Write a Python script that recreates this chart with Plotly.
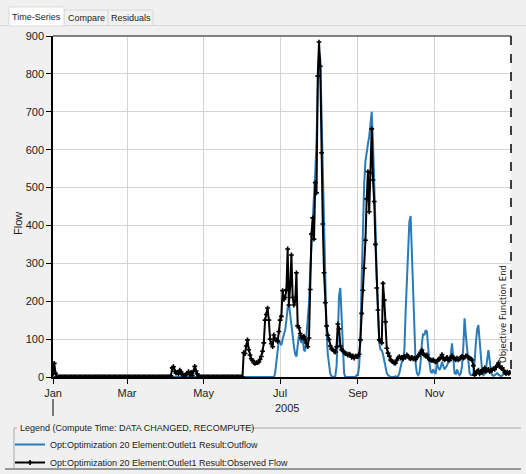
import pandas as pd
import plotly.graph_objects as go

# daily values for 2005, one list per month
obs_jan = [8, 36, 10, 0, 0, 0, 0, 0, 0, 0, 0, 0, 0, 0, 0, 0, 0, 0, 0, 0, 0, 0, 0, 0, 0, 0, 0, 0, 0, 0, 0]
obs_feb = [0, 0, 0, 0, 0, 0, 0, 0, 0, 0, 0, 0, 0, 0, 0, 0, 0, 0, 0, 0, 0, 0, 0, 0, 0, 0, 0, 0]
obs_mar = [0, 0, 0, 0, 0, 0, 0, 0, 0, 0, 0, 0, 0, 0, 0, 0, 0, 0, 0, 0, 0, 0, 0, 0, 0, 0, 0, 0, 0, 0, 0]
obs_apr = [0, 0, 0, 0, 3, 24, 27, 15, 10, 12, 8, 18, 14, 6, 5, 4, 6, 10, 14, 6, 12, 4, 15, 28, 16, 8, 3, 0, 0, 0]
obs_may = [0, 0, 0, 0, 0, 0, 0, 0, 0, 0, 0, 0, 0, 0, 0, 0, 0, 0, 0, 0, 0, 0, 0, 0, 0, 0, 0, 0, 0, 0, 0]
obs_jun = [0, 64, 62, 82, 98, 72, 58, 48, 44, 38, 36, 38, 38, 40, 46, 54, 68, 90, 150, 165,
           182, 150, 100, 88, 80, 111, 100, 98, 94, 120]
obs_jul = [150, 160, 228, 205, 210, 230, 338, 190, 240, 322, 210, 190, 200, 275, 135, 130, 115, 103, 105, 107,
           98, 90, 80, 103, 231, 377, 420, 364, 513, 486, 794]
obs_aug = [884, 820, 592, 404, 275, 196, 135, 110, 99, 82, 74, 72, 68, 66, 80, 140, 127, 82, 72, 70,
           65, 62, 61, 58, 60, 58, 52, 56, 50, 55, 54]
obs_sep = [54, 60, 98, 168, 229, 287, 361, 470, 542, 436, 539, 655, 520, 463, 350, 235, 177, 98, 96, 90,
           247, 203, 146, 76, 63, 55, 45, 42, 40, 37]
obs_oct = [37, 45, 50, 54, 50, 52, 48, 55, 52, 58, 55, 50, 48, 52, 48, 50, 46, 52, 55, 60,
           65, 71, 62, 58, 55, 58, 50, 46, 45, 43, 45]
obs_nov = [42, 40, 42, 45, 48, 52, 59, 50, 45, 48, 52, 46, 44, 50, 56, 52, 48, 45, 50, 45,
           48, 52, 55, 50, 52, 56, 55, 52, 50, 48]
obs_dec = [45, 30, 5, 10, 15, 18, 8, 15, 12, 20, 24, 15, 18, 20, 14, 18, 18, 22, 20, 26,
           30, 37, 28, 24, 24, 18, 12, 9, 13, 10, 12]

out_jan = [0, 0, 0, 0, 0, 0, 0, 0, 0, 0, 0, 0, 0, 0, 0, 0, 0, 0, 0, 0, 0, 0, 0, 0, 0, 0, 0, 0, 0, 0, 0]
out_feb = [0, 0, 0, 0, 0, 0, 0, 0, 0, 0, 0, 0, 0, 0, 0, 0, 0, 0, 0, 0, 0, 0, 0, 0, 0, 0, 0, 0]
out_mar = [0, 0, 0, 0, 0, 0, 0, 0, 0, 0, 0, 0, 0, 0, 0, 0, 0, 0, 0, 0, 0, 0, 0, 0, 0, 0, 0, 0, 0, 0, 0]
out_apr = [0, 0, 0, 0, 0, 0, 0, 0, 0, 0, 0, 0, 0, 0, 0, 0, 0, 0, 0, 0, 0, 0, 0, 0, 0, 0, 0, 0, 0, 0]
out_may = [0, 0, 0, 0, 0, 0, 0, 0, 0, 0, 0, 0, 0, 0, 0, 0, 0, 0, 0, 0, 0, 0, 0, 0, 0, 0, 0, 0, 0, 0, 0]
out_jun = [0, 0, 0, 0, 0, 0, 0, 0, 0, 0, 0, 0, 0, 0, 0, 0, 0, 0, 0, 0,
           0, 0, 0, 0, 0, 0, 10, 40, 70, 98]
out_jul = [90, 84, 100, 110, 124, 150, 182, 194, 160, 142, 110, 80, 60, 54, 80, 111, 100, 90, 100, 71,
           68, 106, 150, 194, 280, 360, 430, 480, 540, 620, 760]
out_aug = [856, 840, 700, 520, 360, 220, 120, 60, 25, 8, 2, 0, 0, 2, 30, 110, 215, 235, 150, 60,
           10, 0, 0, 0, 0, 0, 0, 0, 0, 0, 5]
out_sep = [5, 30, 100, 260, 420, 510, 570, 600, 615, 635, 670, 700, 620, 520, 400, 260, 150, 90, 72, 70,
           60, 40, 20, 10, 5, 2, 0, 0, 0, 0]
out_oct = [2, 0, 2, 10, 25, 40, 45, 70, 170, 260, 350, 410, 425, 330, 200, 100, 35, 10, 5, 10,
           40, 90, 115, 110, 124, 120, 70, 37, 15, 10, 20]
out_nov = [12, 10, 37, 25, 18, 25, 40, 30, 20, 25, 30, 40, 50, 60, 89, 50, 10, 8, 20, 10,
           5, 10, 30, 80, 155, 110, 71, 30, 10, 5]
out_dec = [5, 10, 40, 90, 125, 137, 90, 40, 15, 5, 8, 20, 45, 71, 45, 15, 5, 3, 5, 8,
           10, 6, 3, 2, 4, 8, 12, 15, 10, 6, 4]

tick_dates = ["2005-01-01", "2005-03-01", "2005-05-01", "2005-07-01", "2005-09-01", "2005-11-01"]
tick_labels = ["Jan", "Mar", "May", "Jul", "Sep", "Nov"]

observed = (obs_jan + obs_feb + obs_mar + obs_apr + obs_may + obs_jun
            + obs_jul + obs_aug + obs_sep + obs_oct + obs_nov + obs_dec)
outflow = (out_jan + out_feb + out_mar + out_apr + out_may + out_jun
           + out_jul + out_aug + out_sep + out_oct + out_nov + out_dec)
dates = pd.date_range("2005-01-01", periods=len(observed), freq="D")

FONT = "Liberation Sans"
GRID = "#d4d4d4"

# plot area in window pixels
L, R, T, B = 53, 511, 36, 377


def px(x):
    return (x - L) / (R - L)


def py(y):
    return (B - y) / (B - T)


fig = go.Figure()

fig.add_trace(
    go.Scatter(
        x=dates, y=outflow, mode="lines",
        name="Opt:Optimization 20 Element:Outlet1 Result:Outflow",
        line=dict(color="#2b7bb9", width=2),
        legend="legend",
    )
)
fig.add_trace(
    go.Scatter(
        x=dates, y=observed, mode="lines+markers",
        name="Opt:Optimization 20 Element:Outlet1 Result:Observed Flow",
        line=dict(color="black", width=2),
        marker=dict(symbol="cross", size=4, color="black"),
        legend="legend2",
    )
)

shapes = []
line_shape = lambda x0, y0, x1, y1, color, width=1, dash="solid": dict(
    type="line", xref="paper", yref="paper", x0=px(x0), y0=py(y0), x1=px(x1), y1=py(y1),
    line=dict(color=color, width=width, dash=dash), layer="above",
)

# tab strip
shapes.append(line_shape(0, 25.5, 526, 25.5, "#d9d9d9"))
shapes.append(dict(type="rect", xref="paper", yref="paper", x0=px(64), x1=px(108), y0=py(10), y1=py(25.5),
                   fillcolor="#f2f2f2", line=dict(color="#d9d9d9", width=1)))
shapes.append(dict(type="rect", xref="paper", yref="paper", x0=px(108), x1=px(153), y0=py(10), y1=py(25.5),
                   fillcolor="#f2f2f2", line=dict(color="#d9d9d9", width=1)))
shapes.append(dict(type="rect", xref="paper", yref="paper", x0=px(9), x1=px(64), y0=py(7), y1=py(26),
                   fillcolor="white", line=dict(color="#d9d9d9", width=1)))

# frame top and objective function end marker
shapes.append(line_shape(L, T, R, T, "#5a5a5a", 1.5))
shapes.append(line_shape(R, T, R, B, "black", 1.5, "dash"))
# year separator tick under Jan
shapes.append(line_shape(L, 399, L, 416, "black", 1))

# legend group box
shapes.append(line_shape(14, 428, 17, 428, "#a8a8a8"))
shapes.append(line_shape(240, 428, 521, 428, "#a8a8a8"))
shapes.append(line_shape(14, 428, 14, 468, "#a8a8a8"))
shapes.append(line_shape(5, 469, 521, 469, "#7a7a7a", 1.5))


def label(text, x, y, size=11, family=FONT, angle=0, xanchor="center"):
    return dict(text=text, x=px(x), y=py(y), xref="paper", yref="paper", showarrow=False,
                xanchor=xanchor, yanchor="middle", textangle=angle,
                font=dict(size=size, family=family, color="#222"))


annotations = [
    label("Time-Series", 36.5, 16.5, size=9),
    label("Compare", 86, 17.5, size=9),
    label("Residuals", 130.5, 17.5, size=9),
    label("Flow", 18, 224, angle=-90),
    label("2005", 287, 408),
    label("Objective Function End", 503, 314, size=8.5, family="DejaVu Sans", angle=-90),
    label("Legend (Compute Time: DATA CHANGED, RECOMPUTE)", 18, 428, size=9, xanchor="left"),
]

legend_style = dict(
    xanchor="left", yanchor="top", bgcolor="rgba(0,0,0,0)",
    font=dict(size=9, family=FONT, color="#222"), itemwidth=30,
)

fig.update_layout(
    width=526,
    height=474,
    margin=dict(l=L, r=526 - R, t=T, b=474 - B, pad=0, autoexpand=False),
    paper_bgcolor="#f0f0f0",
    plot_bgcolor="white",
    font=dict(family=FONT, size=11, color="#222"),
    shapes=shapes,
    annotations=annotations,
    showlegend=True,
    legend=dict(x=px(10), y=py(430), **legend_style),
    legend2=dict(x=px(10), y=py(448), **legend_style),
)

fig.update_xaxes(
    type="date",
    range=["2005-01-01", "2006-01-01"],
    tickmode="array",
    tickvals=tick_dates,
    ticktext=tick_labels,
    showgrid=True, gridcolor=GRID, gridwidth=1,
    showline=True, linecolor="black", linewidth=1.5,
    ticks="outside", ticklen=5, tickcolor="black",
    zeroline=False,
)
fig.update_yaxes(
    range=[0, 900],
    dtick=100,
    showgrid=True, gridcolor=GRID, gridwidth=1,
    showline=True, linecolor="black", linewidth=1.5,
    ticks="outside", ticklen=5, tickcolor="black",
    zeroline=False,
)

# the page body has a default margin; drop it so the figure fills the window
fig.write_html(
    "out.html",
    config={"displayModeBar": False},
    post_script="document.body.style.margin = '0'; document.body.style.background = '#f0f0f0';",
)
